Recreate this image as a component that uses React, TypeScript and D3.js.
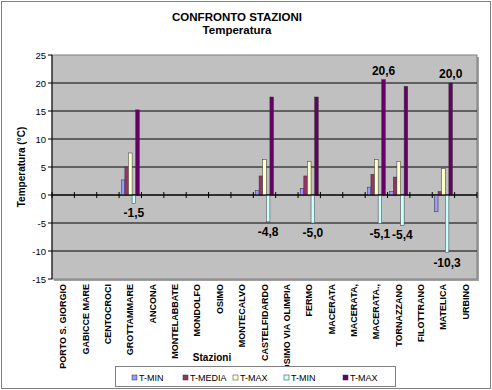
import React from "react";
import * as d3 from "d3";

const categories = [
  "PORTO S. GIORGIO", "GABICCE MARE", "CENTOCROCI", "GROTTAMMARE", "ANCONA",
  "MONTELABBATE", "MONDOLFO", "OSIMO", "MONTECALVO", "CASTELFIDARDO",
  "OSIMO VIA OLIMPIA", "FERMO", "MACERATA", "MACERATA,", "MACERATA.,",
  "TORNAZZANO", "FILOTTRANO", "MATELICA", "URBINO",
];
const N = null;
const tMin1 = [N, N, N, 2.7, N, N, N, N, N, 0.8, N, 1.2, N, N, 1.4, 0.6, N, -3.0, N];
const tMedia = [N, N, N, 5.0, N, N, N, N, N, 3.4, N, 3.4, N, N, 3.7, 3.2, N, 0.6, N];
const tMax1 = [N, N, N, 7.5, N, N, N, N, N, 6.3, N, 6.0, N, N, 6.3, 6.0, N, 4.7, N];
const tMin2 = [N, N, N, -1.5, N, N, N, N, N, -4.8, N, -5.0, N, N, -5.1, -5.4, N, -10.3, N];
const tMax2 = [N, N, N, 15.2, N, N, N, N, N, 17.5, N, 17.5, N, N, 20.6, 19.4, N, 20.0, N];
const seriesNames = ["T-MIN", "T-MEDIA", "T-MAX", "T-MIN", "T-MAX"];
const seriesColors = ["#9999FF", "#993366", "#FFFFCC", "#CCFFFF", "#660066"];
const seriesValues = [tMin1, tMedia, tMax1, tMin2, tMax2];
// which points carry a data label: [seriesIndex, categoryIndex]
const labeledPoints: [number, number][] = [
  [3, 3], [3, 9], [3, 11], [3, 14], [3, 15], [3, 17], [4, 14], [4, 17],
];
const yTicks = [-15, -10, -5, 0, 5, 10, 15, 20, 25];

const FONT = "'Liberation Sans', Arial, sans-serif";

export default function App() {
  const W = 492, H = 390;
  const left = 52, right = 477, top = 55, bottom = 279;
  const x = d3.scaleBand<number>().domain(d3.range(categories.length)).range([left, right]);
  const bw = x.bandwidth();
  const barW = bw / 6.2;
  const gap = bw - 5 * barW;
  const xs = d3.scaleBand<number>().domain(d3.range(5)).range([gap / 2, bw - gap / 2]);
  const y = d3.scaleLinear().domain([-15, 25]).range([bottom, top]);
  const fmt = (v: number) => d3.format(".1f")(v).replace(".", ",").replace("\u2212", "-");

  const legendX = [132, 183, 233, 284, 343];

  return (
    <svg width={W} height={H} style={{ position: "absolute", left: 0, top: 0, background: "#fff" }}
      fontFamily={FONT}>
      <rect x={1.5} y={1.5} width={W - 3} height={H - 3} fill="#fff" stroke="#808080" strokeWidth={1} />
      <text x={237} y={21} textAnchor="middle" fontWeight="bold" fontSize={11.5}>CONFRONTO STAZIONI</text>
      <text x={237} y={34} textAnchor="middle" fontWeight="bold" fontSize={11.5}>Temperatura</text>

      {/* plot area */}
      <rect x={left + 2} y={top + 2} width={right - left} height={bottom - top} fill="#a0a0a0" />
      <rect x={left} y={top} width={right - left} height={bottom - top} fill="#C0C0C0" stroke="#808080" strokeWidth={1} />
      {yTicks.map((t) => (
        <g key={t}>
          {t !== -15 && t !== 25 && (
            <line x1={left} x2={right} y1={y(t)} y2={y(t)} stroke="#000" strokeWidth={1} />
          )}
          <line x1={left - 4} x2={left} y1={y(t)} y2={y(t)} stroke="#000" />
          <text x={left - 6} y={y(t) + 3.5} textAnchor="end" fontSize={9.5}>{t}</text>
        </g>
      ))}
      <line x1={left} x2={left} y1={top} y2={bottom} stroke="#000" />

      {/* bars */}
      {seriesValues.map((vals, s) =>
        vals.map((v, i) =>
          v == null ? null : (
            <rect key={`${s}-${i}`}
              x={(x(i) as number) + (xs(s) as number)}
              y={Math.min(y(v), y(0))}
              width={barW}
              height={Math.abs(y(v) - y(0))}
              fill={seriesColors[s]} stroke="#333" strokeWidth={0.5} />
          )
        )
      )}
      {/* zero axis with ticks */}
      <line x1={left} x2={right} y1={y(0)} y2={y(0)} stroke="#000" />
      {d3.range(categories.length + 1).map((i) => {
        const xx = left + i * bw;
        return <line key={i} x1={xx} x2={xx} y1={y(0) - 3} y2={y(0) + 3} stroke="#000" />;
      })}

      {/* data labels */}
      {labeledPoints.map(([s, i]) => {
        const v = seriesValues[s][i] as number;
        const cx = (x(i) as number) + (xs(s) as number) + barW / 2;
        const ty = v < 0 ? y(v) + 14 : y(v) - 5;
        return (
          <text key={`l${s}-${i}`} x={cx} y={ty} textAnchor="middle" fontWeight="bold" fontSize={12}>
            {fmt(v)}
          </text>
        );
      })}

      {/* category labels */}
      {categories.map((c, i) => {
        const cx = (x(i) as number) + bw / 2 + 3;
        return (
          <text key={c + i} transform={`translate(${cx},${bottom + 5}) rotate(-90)`} textAnchor="end"
            fontSize={9} fontWeight="bold">{c}</text>
        );
      })}

      <text transform={`translate(${25},${(top + bottom) / 2}) rotate(-90)`} textAnchor="middle"
        fontWeight="bold" fontSize={10}>Temperatura (°C)</text>
      <text x={212} y={361} textAnchor="middle" fontWeight="bold" fontSize={10}>Stazioni</text>

      {/* legend */}
      <rect x={115.5} y={366.5} width={280} height={20} fill="#fff" stroke="#808080" />
      {seriesNames.map((n, s) => (
        <g key={s}>
          <rect x={legendX[s]} y={375} width={5} height={5} fill={seriesColors[s]} stroke="#333" strokeWidth={0.5} />
          <text x={legendX[s] + 7} y={380.5} fontSize={9}>{n}</text>
        </g>
      ))}
    </svg>
  );
}
